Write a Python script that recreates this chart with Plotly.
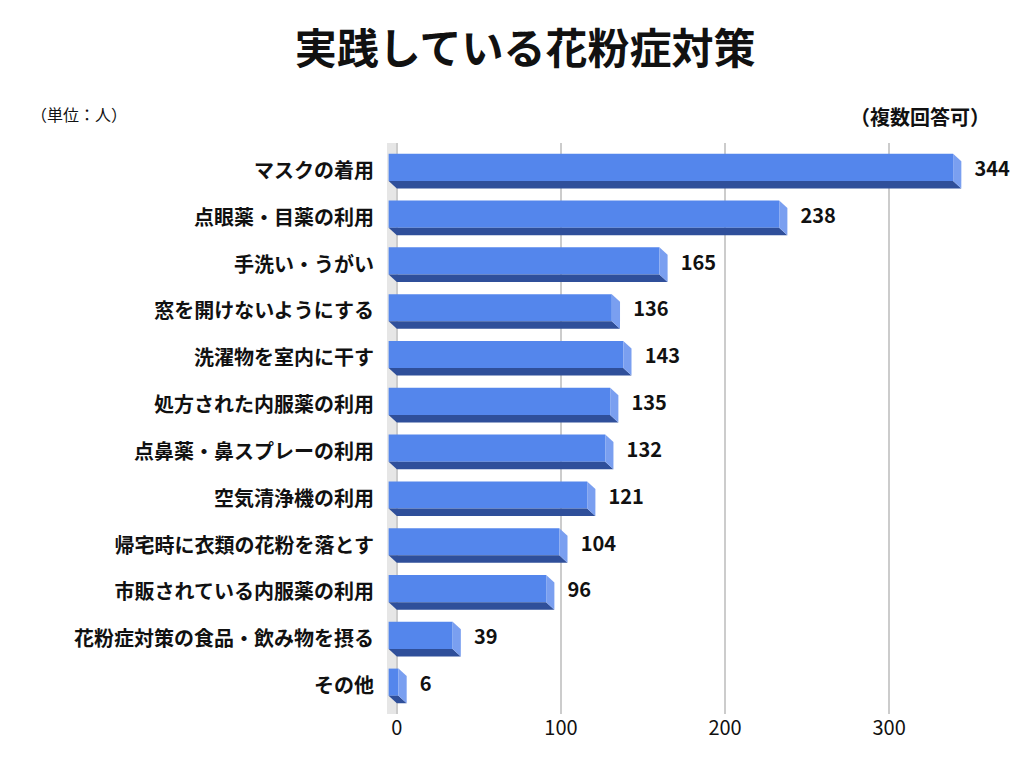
import plotly.graph_objects as go

categories = ["マスクの着用", "点眼薬・目薬の利用", "手洗い・うがい", "窓を開けないようにする",
              "洗濯物を室内に干す", "処方された内服薬の利用", "点鼻薬・鼻スプレーの利用",
              "空気清浄機の利用", "帰宅時に衣類の花粉を落とす", "市販されている内服薬の利用",
              "花粉症対策の食品・飲み物を摂る", "その他"]
values = [344, 238, 165, 136, 143, 135, 132, 121, 104, 96, 39, 6]

FONT = "Noto Sans CJK JP"
n = len(categories)
ys = [n - 1 - i for i in range(n)]
dx, dy = 5, 0.16  # 3D depth
half = 0.37

fig = go.Figure()
fig.add_trace(go.Bar(y=[y + dy / 2 for y in ys], x=values, base=-dx, orientation="h",
                     width=2 * half - dy, marker=dict(color="#5486ec", line_width=0),
                     hoverinfo="skip"))
fig.add_trace(go.Scatter(x=[v + 8 for v in values], y=ys, mode="text",
                         text=[f"<b>{v}</b>" for v in values], textposition="middle right",
                         textfont=dict(size=20, color="#111", family=FONT), hoverinfo="skip",
                         cliponaxis=False))

shapes = [dict(type="rect", xref="x", yref="paper", x0=-6, x1=-0.5, y0=0, y1=1,
               fillcolor="#e6e6e6", line_width=0, layer="below")]
for y, v in zip(ys, values):
    t = y + half
    b = y - half + dy
    shapes.append(dict(type="path", xref="x", yref="y",
                       path=f"M {-dx},{b} L {v-dx},{b} L {v},{b-dy} L 0,{b-dy} Z",
                       fillcolor="#2f4f9a", line_width=0))
    shapes.append(dict(type="path", xref="x", yref="y",
                       path=f"M {v-dx},{t} L {v},{t-dy} L {v},{b-dy} L {v-dx},{b} Z",
                       fillcolor="#7a9ff0", line_width=0))
fig.update_layout(shapes=shapes)

fig.update_layout(
    width=1024, height=768, showlegend=False, plot_bgcolor="white", paper_bgcolor="white",
    margin=dict(l=379, r=28, t=135, b=62),
    font=dict(family=FONT, color="#111"),
    title=dict(text="<b>実践している花粉症対策</b>", x=0.505, xanchor="center", y=0.965,
               font=dict(size=42, family=FONT, color="#111")),
    xaxis=dict(range=[-6, 370], tickvals=[0, 100, 200, 300], showgrid=True,
               gridcolor="#cccccc", gridwidth=2, zeroline=False, tickfont=dict(size=20),
               ticks=""),
    yaxis=dict(range=[-0.6, n - 0.4], tickvals=ys, ticktext=[f"<b>{c}</b>" for c in categories],
               tickfont=dict(size=20), showgrid=False, zeroline=False, ticks="", ticklabelstandoff=12),
    annotations=[
        dict(text="（単位：人）", xref="paper", yref="paper", x=-0.58, y=1.075, xanchor="left",
             showarrow=False, font=dict(size=16)),
        dict(text="<b>（複数回答可）</b>", xref="paper", yref="paper", x=0.98, y=1.075,
             xanchor="right", showarrow=False, font=dict(size=20)),
    ],
)

fig.write_html("out.html")
